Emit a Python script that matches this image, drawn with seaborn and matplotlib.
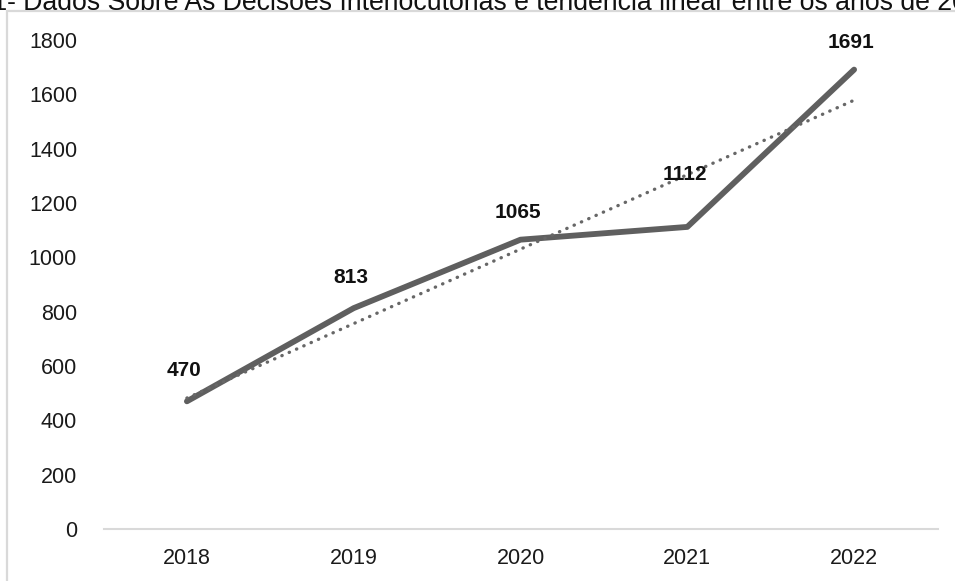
import matplotlib
matplotlib.use("Agg")
import matplotlib.pyplot as plt
import numpy as np
import pandas as pd
import seaborn as sns
from matplotlib.patches import Rectangle

# Data
years = ["2018", "2019", "2020", "2021", "2022"]
decisoes = [470, 813, 1065, 1112, 1691]
y_ticks = [0, 200, 400, 600, 800, 1000, 1200, 1400, 1600, 1800]

title_prefix = "Gráfico 1- "
title_body = "Dados Sobre As Decisões Interlocutórias e tendência linear entre os anos de 2018 a 2022"

sns.set_theme(style="white")
plt.rcParams["font.family"] = ["Liberation Sans", "DejaVu Sans"]

df = pd.DataFrame({"ano": years, "decisoes": decisoes})
df["pos"] = np.arange(len(df))

W, H, DPI = 955, 581, 100
fig = plt.figure(figsize=(W / DPI, H / DPI), dpi=DPI)
ax = fig.add_axes([103.5 / W, 1 - 529 / H, (937.5 - 103.5) / W, (529 - 40) / H])

line_col = "#5f5f5f"
# Main series
sns.lineplot(data=df, x="pos", y="decisoes", ax=ax, color=line_col,
             linewidth=4.2, solid_capstyle="round", solid_joinstyle="round")

# Linear trend (least squares)
slope, intercept = np.polyfit(df["pos"], df["decisoes"], 1)
trend = intercept + slope * df["pos"]
ax.plot(df["pos"], trend, color="#676767", linewidth=2.4,
        linestyle=(0, (0.1, 2.3)), dash_capstyle="round")

# Value labels
offsets = [15, 15, 13, 31, 13]
for x, v, off in zip(df["pos"], df["decisoes"], offsets):
    ax.annotate(f"{v}", (x, v), xytext=(-2, off), textcoords="offset points",
                ha="center", va="bottom", fontsize=15, fontweight="bold",
                color="#111111")

ax.set_xlim(-0.5, len(years) - 0.5)
ax.set_ylim(0, 1800)
ax.set_xticks(df["pos"])
ax.set_xticklabels(years)
ax.set_yticks(y_ticks)
ax.tick_params(axis="both", labelsize=15.5, colors="#1a1a1a", length=0)
ax.tick_params(axis="x", pad=14)
ax.tick_params(axis="y", pad=19)
ax.set_xlabel("")
ax.set_ylabel("")
for s in ["top", "right", "left"]:
    ax.spines[s].set_visible(False)
ax.spines["bottom"].set_color("#d9d9d9")
ax.spines["bottom"].set_linewidth(1.5)

# Chart frame
fig.patches.append(Rectangle((7 / W, -0.1), 1.2, 1 - 11 / H + 0.1,
                             transform=fig.transFigure, fill=False,
                             edgecolor="#d9d9d9", linewidth=1.6))

# Title, aligned so the body starts at a fixed point
title_size = 19.2
renderer = fig.canvas.get_renderer()
probe = fig.text(0, 0, title_prefix + "D", fontsize=title_size)
probe_w = probe.get_window_extent(renderer).width
probe.remove()
probe2 = fig.text(0, 0, "D", fontsize=title_size)
d_w = probe2.get_window_extent(renderer).width
probe2.remove()
prefix_w = probe_w - d_w
fig.text((23 - prefix_w) / W, 1 - 9.5 / H, title_prefix + title_body,
         fontsize=title_size, color="#111111", ha="left", va="baseline")

fig.savefig("out.png", dpi=DPI)
